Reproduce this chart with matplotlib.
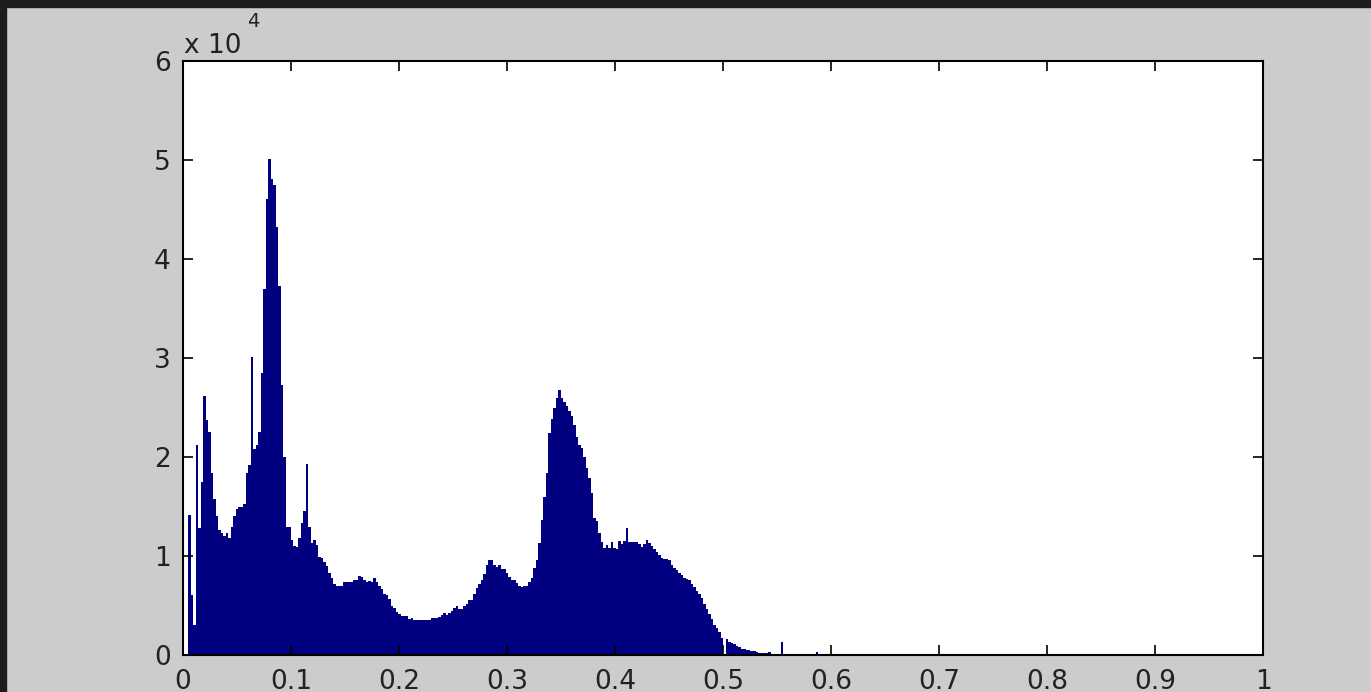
import numpy as np
import matplotlib
matplotlib.use("Agg")
import matplotlib.pyplot as plt
from matplotlib.patches import Rectangle

# histogram counts in units of 1e4, one value per bin of width 1/432 starting at 0
counts_e4 = [
    0.00, 0.00, 1.41, 0.61, 0.30, 2.12, 1.28, 1.75, 2.62, 2.37,
    2.25, 1.84, 1.58, 1.40, 1.26, 1.23, 1.20, 1.23, 1.18, 1.29,
    1.40, 1.47, 1.49, 1.49, 1.53, 1.84, 1.92, 3.01, 2.08, 2.12,
    2.25, 2.85, 3.70, 4.61, 5.01, 4.81, 4.75, 4.32, 3.73, 2.73,
    2.00, 1.29, 1.29, 1.16, 1.10, 1.09, 1.18, 1.33, 1.45, 1.93,
    1.29, 1.13, 1.16, 1.11, 0.99, 0.98, 0.94, 0.90, 0.83, 0.78,
    0.72, 0.70, 0.70, 0.70, 0.74, 0.74, 0.74, 0.74, 0.76, 0.76,
    0.80, 0.79, 0.76, 0.74, 0.75, 0.74, 0.78, 0.74, 0.70, 0.67,
    0.62, 0.61, 0.57, 0.49, 0.47, 0.43, 0.41, 0.39, 0.39, 0.39,
    0.36, 0.37, 0.35, 0.35, 0.35, 0.35, 0.35, 0.35, 0.35, 0.37,
    0.37, 0.37, 0.38, 0.40, 0.42, 0.40, 0.42, 0.44, 0.47, 0.49,
    0.46, 0.46, 0.49, 0.52, 0.56, 0.56, 0.62, 0.68, 0.72, 0.76,
    0.82, 0.91, 0.96, 0.96, 0.91, 0.89, 0.91, 0.87, 0.87, 0.83,
    0.79, 0.76, 0.76, 0.73, 0.70, 0.69, 0.70, 0.70, 0.74, 0.78,
    0.88, 0.96, 1.13, 1.36, 1.60, 1.84, 2.24, 2.38, 2.49, 2.60,
    2.68, 2.60, 2.56, 2.52, 2.46, 2.41, 2.32, 2.20, 2.12, 2.09,
    2.00, 1.89, 1.79, 1.64, 1.38, 1.35, 1.23, 1.14, 1.08, 1.11,
    1.08, 1.14, 1.08, 1.07, 1.15, 1.12, 1.15, 1.28, 1.14, 1.14,
    1.14, 1.14, 1.12, 1.09, 1.12, 1.16, 1.13, 1.10, 1.07, 1.04,
    1.01, 0.98, 0.97, 0.97, 0.96, 0.91, 0.88, 0.86, 0.83, 0.81,
    0.78, 0.77, 0.76, 0.72, 0.69, 0.65, 0.62, 0.58, 0.52, 0.46,
    0.41, 0.36, 0.30, 0.27, 0.23, 0.17, 0.00, 0.16, 0.13, 0.12,
    0.11, 0.09, 0.08, 0.06, 0.06, 0.05, 0.05, 0.04, 0.04, 0.03,
    0.02, 0.02, 0.02, 0.02, 0.03, 0.01, 0.01, 0.01, 0.01, 0.13,
    0.005, 0.005, 0.005, 0.005, 0.005, 0.005, 0.005, 0.005, 0.005, 0.005,
    0.005, 0.005, 0.005, 0.03, 0.00, 0.00,
]
n_bins_per_unit = 432

x_ticks = [0, 0.1, 0.2, 0.3, 0.4, 0.5, 0.6, 0.7, 0.8, 0.9, 1]
x_tick_labels = ["0", "0.1", "0.2", "0.3", "0.4", "0.5", "0.6", "0.7", "0.8", "0.9", "1"]
y_ticks = [0, 1, 2, 3, 4, 5, 6]
y_tick_labels = ["0", "1", "2", "3", "4", "5", "6"]
exponent_label = "x 10"
exponent_power = "4"

W, H = 1371, 692
fig = plt.figure(figsize=(W / 100, H / 100), dpi=100)
fig.patch.set_facecolor("#cccccc")

# dark screenshot border along top and left
fig.patches.append(Rectangle((0, 1 - 7 / H), 1, 7 / H, transform=fig.transFigure,
                             color="#1c1c1c", zorder=0))
fig.patches.append(Rectangle((0, 0), 6 / W, 1, transform=fig.transFigure,
                             color="#1c1c1c", zorder=0))

ax = fig.add_axes([183 / W, 37 / H, 1080 / W, 594 / H])
ax.set_facecolor("white")

counts = np.array(counts_e4)
edges = np.arange(len(counts) + 1) / n_bins_per_unit
ax.stairs(counts, edges, fill=True, color="#000080", linewidth=0)

ax.set_xlim(0, 1)
ax.set_ylim(0, 6)
ax.set_xticks(x_ticks, x_tick_labels)
ax.set_yticks(y_ticks, y_tick_labels)
ax.tick_params(direction="in", top=True, right=True, length=7, width=1.2,
               labelsize=19, colors="black", labelcolor="#222222")
ax.tick_params(axis="x", pad=10)
ax.tick_params(axis="y", pad=9)
for s in ax.spines.values():
    s.set_linewidth(1.5)
    s.set_color("black")

fig.text(184 / W, (H - 53) / H, exponent_label, fontsize=19, color="#222222",
         ha="left", va="baseline")
fig.text(247 / W, (H - 27) / H, exponent_power, fontsize=14, color="#222222",
         ha="left", va="baseline")

fig.savefig("out.png", dpi=100, facecolor=fig.get_facecolor())
